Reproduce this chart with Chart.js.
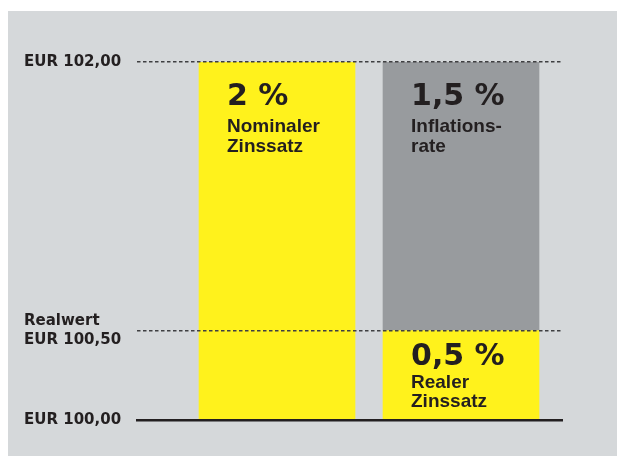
<!DOCTYPE html>
<html>
<head>
<meta charset="utf-8">
<script src="https://cdn.jsdelivr.net/npm/chart.js@4/dist/chart.umd.min.js"></script>
<style>
  html, body { margin: 0; padding: 0; background: #ffffff; }
  canvas { display: block; }
</style>
</head>
<body>
<canvas id="chart" width="617" height="456"></canvas>
<script>
// Werte aus der Grafik
const barPositions = [1, 2];
const yellowRanges = [[100, 102], [100, 100.5]];   // Nominal / Realer Zinssatz
const grayRanges = [null, [100.5, 102]];           // Inflationsrate
const yellowPct = ['2 %', '0,5 %'];
const yellowText = [['Nominaler', 'Zinssatz'], ['Realer', 'Zinssatz']];
const grayPct = [null, '1,5 %'];
const grayText = [null, ['Inflations-', 'rate']];
const yTicks = [100, 100.5, 102];
const yTickLabels = [['EUR 100,00'], ['Realwert', 'EUR 100,50'], ['EUR 102,00']];

const TEXT = '#231f20';
const YELLOW = '#fff21c';
const GRAY = '#989b9e';
const PANEL = '#d5d8da';

// nur vorhandene Segmente als Punkte übergeben
function toPoints(ranges, pcts, texts) {
    const out = [];
    ranges.forEach((r, i) => {
        if (r) out.push({ x: barPositions[i], y: r, pct: pcts[i], text: texts[i] });
    });
    return out;
}

// Grauer Hintergrund
const panelPlugin = {
    id: 'panel',
    beforeDraw(chart) {
        const ctx = chart.ctx;
        ctx.save();
        ctx.fillStyle = PANEL;
        ctx.fillRect(8, 11, chart.width - 8, chart.height - 11);
        ctx.restore();
    }
};

// Beschriftung in den Balken
const barTextPlugin = {
    id: 'barText',
    afterDatasetsDraw(chart) {
        const ctx = chart.ctx;
        ctx.save();
        ctx.fillStyle = TEXT;
        ctx.textBaseline = 'alphabetic';
        ctx.textAlign = 'left';
        chart.data.datasets.forEach((ds, di) => {
            const meta = chart.getDatasetMeta(di);
            meta.data.forEach((el, i) => {
                const raw = ds.data[i];
                const left = el.x - el.width / 2 + 28;
                const top = Math.min(el.y, el.base);
                const tall = Math.abs(el.base - el.y) > 150;
                const offs = tall ? [43, 70, 90] : [34, 57, 76];
                ctx.font = 'bold 30px "DejaVu Sans"';
                ctx.fillText(raw.pct, left, top + offs[0]);
                ctx.font = 'bold 19px "Liberation Sans"';
                raw.text.forEach((line, li) => ctx.fillText(line, left, top + offs[li + 1]));
            });
        });
        ctx.restore();
    }
};

new Chart(document.getElementById('chart'), {
    type: 'bar',
    data: {
        datasets: [
            {
                label: 'Zinssatz',
                data: toPoints(yellowRanges, yellowPct, yellowText),
                backgroundColor: YELLOW,
                borderWidth: 0
            },
            {
                label: 'Inflationsrate',
                data: toPoints(grayRanges, grayPct, grayText),
                backgroundColor: GRAY,
                borderWidth: 0
            }
        ]
    },
    options: {
        responsive: false,
        animation: false,
        events: [],
        layout: { padding: { left: 24, right: 55, top: 62, bottom: 36 } },
        datasets: { bar: { grouped: false, barThickness: 156 } },
        plugins: { legend: { display: false }, tooltip: { enabled: false } },
        scales: {
            x: {
                type: 'linear',
                offset: false,
                min: 0.2391,
                max: 2.5489,
                ticks: { display: false },
                grid: { display: false, drawTicks: false },
                border: { display: true, color: TEXT, width: 2.5, z: 2 }
            },
            y: {
                min: 100,
                max: 102,
                afterBuildTicks: (scale) => { scale.ticks = yTicks.map(v => ({ value: v })); },
                afterFit: (scale) => { scale.width = 113; },
                ticks: {
                    crossAlign: 'far',
                    padding: 16,
                    color: TEXT,
                    font: { family: '"DejaVu Sans"', weight: 'bold', size: 15, lineHeight: 1.3 },
                    callback: (value) => {
                        const idx = yTicks.indexOf(value);
                        return idx >= 0 ? yTickLabels[idx] : '';
                    }
                },
                grid: {
                    z: 1,
                    drawTicks: false,
                    lineWidth: 1.5,
                    color: (ctx) => (ctx.tick && ctx.tick.value === 100 ? 'rgba(0,0,0,0)' : '#3f3f41')
                },
                border: { display: false, dash: [3.5, 2.5] }
            }
        }
    },
    plugins: [panelPlugin, barTextPlugin]
});
</script>
</body>
</html>
